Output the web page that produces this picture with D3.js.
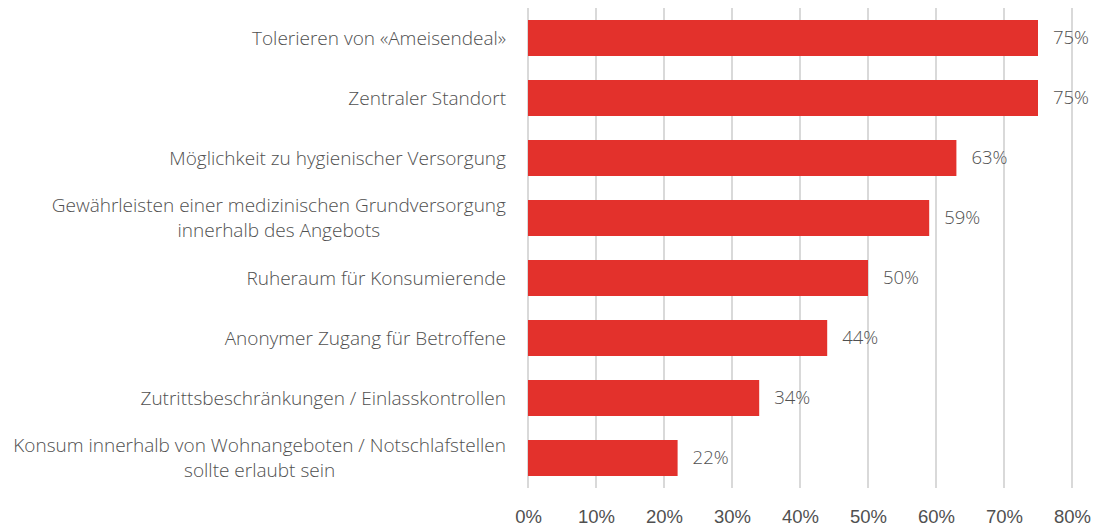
<!DOCTYPE html>
<meta charset="utf-8">
<style>
	body { margin: 0; background: #fff; }
	svg { font-family: "Open Sans", sans-serif; font-weight: 300; }
	.val, .tick text { fill: #505050; font-size: 18.5px; }
	.lbl { fill: #505050; font-size: 19px; }
	.grid line { stroke: #d9d9d9; stroke-width: 2; }
	.bar { fill: #e3312c; }
</style>
<script src="https://d3js.org/d3.v7.min.js"></script>
<svg width="1097" height="526" class="chart"></svg>
<script>
	var categories = [
		["Tolerieren von «Ameisendeal»"],
		["Zentraler Standort"],
		["Möglichkeit zu hygienischer Versorgung"],
		["Gewährleisten einer medizinischen Grundversorgung", "innerhalb des Angebots"],
		["Ruheraum für Konsumierende"],
		["Anonymer Zugang für Betroffene"],
		["Zutrittsbeschränkungen / Einlasskontrollen"],
		["Konsum innerhalb von Wohnangeboten / Notschlafstellen", "sollte erlaubt sein"]
	];
	var values = [75, 75, 63, 59, 50, 44, 34, 22];
	var ticks = [0, 10, 20, 30, 40, 50, 60, 70, 80];

	var svg = d3.select(".chart"),
			margin = {top: 8, right: 25, bottom: 38, left: 528},
			width = svg.attr("width") - margin.left - margin.right,
			height = svg.attr("height") - margin.top - margin.bottom;

	var x = d3.scaleLinear().domain([0, 80]).range([0, 544]);
	var y = d3.scaleBand()
		.domain(d3.range(categories.length))
		.range([0, 480])
		.paddingInner(0.4).paddingOuter(0.2);

	var g = svg.append("g")
		.attr("transform", "translate(" + margin.left + "," + margin.top + ")");

	g.append("g").attr("class", "grid")
		.selectAll("line").data(ticks).enter().append("line")
			.attr("x1", function(d) { return x(d); })
			.attr("x2", function(d) { return x(d); })
			.attr("y1", 0).attr("y2", 480);

	var xAxis = g.append("g")
		.attr("transform", "translate(0,480)")
		.call(d3.axisBottom(x).tickValues(ticks).tickSize(0).tickPadding(22).tickFormat(function(d) { return d + "%"; }));
	xAxis.select(".domain").remove();
	xAxis.selectAll("text").attr("font-family", null).attr("font-size", null);

	g.selectAll(".bar").data(values).enter().append("rect")
		.attr("class", "bar")
		.attr("x", x(0))
		.attr("y", function(d, i) { return y(i); })
		.attr("width", function(d) { return x(d) - x(0); })
		.attr("height", y.bandwidth());

	g.selectAll(".val").data(values).enter().append("text")
		.attr("class", "val")
		.attr("x", function(d) { return x(d) + 15; })
		.attr("y", function(d, i) { return y(i) + y.bandwidth() / 2; })
		.attr("dy", "0.35em")
		.text(function(d) { return d + "%"; });

	var lbl = g.selectAll(".lbl").data(categories).enter().append("text")
		.attr("class", "lbl")
		.attr("y", function(d, i) { return y(i) + y.bandwidth() / 2; });

	lbl.each(function(d) {
		var t = d3.select(this);
		var lines = d;
		lines.forEach(function(s, k) {
			t.append("tspan")
				.attr("text-anchor", "middle")
				.attr("x", 0)
				.attr("dy", k === 0 ? (0.35 - (lines.length - 1) * 0.65) + "em" : "1.3em")
				.text(s);
		});
	});
	// centre the lines of a label, then put the block's right edge at x = -22
	lbl.each(function() {
		var w = this.getBBox().width;
		d3.select(this).selectAll("tspan").attr("x", -22 - w / 2);
	});
</script>
